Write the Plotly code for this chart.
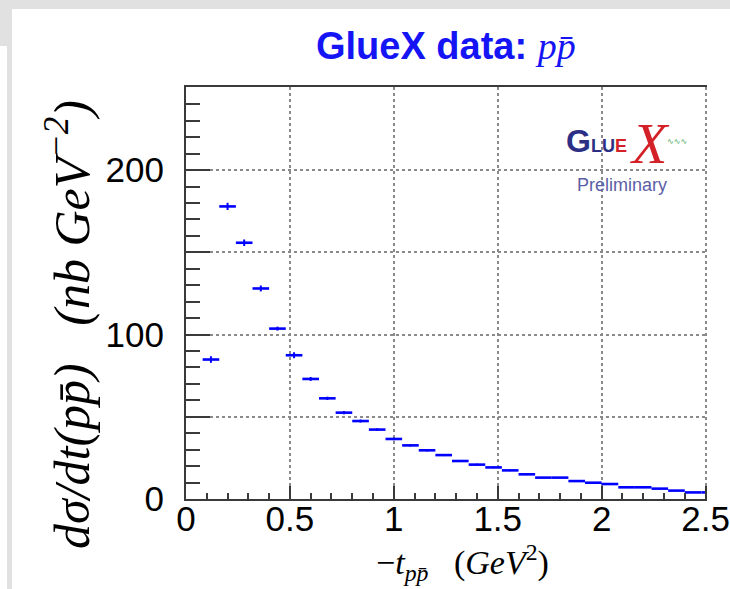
import plotly.graph_objects as go

# Differential cross section dsigma/dt for p pbar, in bins of -t (GeV^2)
bin_low = [0.08, 0.16, 0.24, 0.32, 0.40, 0.48, 0.56, 0.64, 0.72, 0.80,
           0.88, 0.96, 1.04, 1.12, 1.20, 1.28, 1.36, 1.44, 1.52, 1.60,
           1.68, 1.76, 1.84, 1.92, 2.00, 2.08, 2.16, 2.24, 2.32, 2.40, 2.48]
bin_width = 0.08
dsigma_dt = [84.8, 177.9, 155.8, 128.0, 103.6, 87.4, 73.0, 61.2, 52.5, 47.4,
             42.2, 36.5, 32.6, 29.6, 26.7, 23.1, 20.9, 19.2, 17.4, 15.0,
             13.0, 13.0, 10.9, 9.9, 9.1, 7.1, 7.1, 6.3, 5.1, 4.0, 4.0]
stat_err = [2.0, 2.2, 2.0, 1.8, 1.2, 1.8, 1.2, 1.0, 1.0, 0.9,
            0.8, 0.8, 0.7, 0.7, 0.6, 0.6, 0.6, 0.5, 0.5, 0.5,
            0.4, 0.4, 0.4, 0.4, 0.3, 0.3, 0.3, 0.3, 0.3, 0.3, 0.3]

x_major = [0, 0.5, 1, 1.5, 2, 2.5]
x_labels = ["0", "0.5", "1", "1.5", "2", "2.5"]
y_labelled = [0, 100, 200]
y_unlabelled = [50, 150]

x_range = [0, 2.507]
y_range = [0, 250.5]

bin_center = [lo + bin_width / 2 for lo in bin_low]

W, H = 730, 589
L, R, T, B = 186, 707, 87, 499


def px(x):
    return (x - L) / (R - L)


def py(y):
    return (B - y) / (B - T)


fig = go.Figure()
fig.add_trace(go.Scatter(
    x=bin_center, y=dsigma_dt, mode="markers",
    marker=dict(size=0.1, color="#0000ff"),
    error_x=dict(type="constant", value=bin_width / 2, width=0,
                 thickness=2.6, color="#0000ff"),
    error_y=dict(type="data", array=stat_err, width=0,
                 thickness=2, color="#0000ff"),
    showlegend=False, hoverinfo="x+y",
))
# empty trace carrying the secondary y axis (unlabelled major ticks + grid)
fig.add_trace(go.Scatter(x=[None], y=[None], yaxis="y2", showlegend=False,
                         hoverinfo="skip"))

tick_font = dict(family="Liberation Sans, Arial", size=35, color="#000")
line_col = "#3a3a3a"
grid = dict(showgrid=True, gridcolor="#8a8a8a", gridwidth=1.5, griddash="dot")

fig.update_layout(
    xaxis=dict(
        range=x_range, tickmode="array", tickvals=x_major, ticktext=x_labels,
        showline=True, linecolor=line_col, linewidth=2, mirror=True,
        ticks="inside", ticklen=13, tickcolor=line_col, tickwidth=2,
        minor=dict(dtick=0.1, tick0=0, ticklen=6, ticks="inside",
                   tickcolor=line_col, tickwidth=2, showgrid=False),
        zeroline=False, tickfont=tick_font, ticklabelstandoff=-12, **grid,
    ),
    yaxis=dict(
        range=y_range, tickmode="array", tickvals=y_labelled,
        showline=True, linecolor=line_col, linewidth=2, mirror=False,
        ticks="inside", ticklen=24, tickcolor=line_col, tickwidth=2,
        minor=dict(dtick=10, tick0=0, ticklen=14, ticks="inside",
                   tickcolor=line_col, tickwidth=2, showgrid=False),
        zeroline=False, tickfont=tick_font, ticklabelstandoff=13, **grid,
    ),
    yaxis2=dict(
        range=y_range, overlaying="y", side="left", tickmode="array",
        tickvals=y_unlabelled, showticklabels=False,
        ticks="inside", ticklen=24, tickcolor=line_col, tickwidth=2,
        showline=False, zeroline=False, **grid,
    ),
)

gray = "#e1e1e1"
shapes = [
    dict(type="rect", xref="paper", yref="paper", x0=px(0), x1=px(W), y0=py(0), y1=py(9),
         fillcolor=gray, line_width=0, layer="below"),
    dict(type="rect", xref="paper", yref="paper", x0=px(0), x1=px(12), y0=py(9), y1=py(46),
         fillcolor=gray, line_width=0, layer="below"),
    dict(type="rect", xref="paper", yref="paper", x0=px(7), x1=px(12), y0=py(46), y1=py(H),
         fillcolor=gray, line_width=0, layer="below"),
]

serif = "Liberation Serif, Times New Roman, serif"
nb = "\u00a0"
annotations = [
    # title
    dict(x=px(446), y=py(46), xref="paper", yref="paper", showarrow=False,
         xanchor="center", yanchor="middle",
         text=("<b>GlueX data: </b><span style='font-family:" + serif + "'><i>pp\u0304</i></span>"),
         font=dict(family="Liberation Sans, Arial", size=38, color="#1414f5")),
    # y-axis title
    dict(x=px(68), y=py(325), xref="paper", yref="paper", showarrow=False,
         xanchor="center", yanchor="middle", textangle=-90,
         text="<i>d\u03c3/dt(pp\u0304)" + nb * 3 + "(nb" + nb + "GeV<sup>\u22122</sup>)</i>",
         font=dict(family=serif, size=50, color="#000")),
    # x-axis title
    dict(x=px(462), y=py(562), xref="paper", yref="paper", showarrow=False,
         xanchor="center", yanchor="middle",
         text="\u2212<i>t</i><sub><i>pp\u0304</i></sub>" + nb * 3 + "(<i>GeV</i><sup>2</sup>)",
         font=dict(family=serif, size=34, color="#000")),
    # GlueX logo
    dict(x=px(564), y=py(141), xref="paper", yref="paper", showarrow=False,
         xanchor="left", yanchor="middle",
         text="<b><span style='font-size:32px'>G</span>LU<span style='color:#d42027'>E</span></b>",
         font=dict(family="Liberation Sans, Arial", size=18, color="#2b2f86")),
    dict(x=px(650), y=py(143), xref="paper", yref="paper", showarrow=False,
         xanchor="center", yanchor="middle", text="<i>X</i>",
         font=dict(family=serif, size=58, color="#d42027")),
    dict(x=px(677), y=py(141), xref="paper", yref="paper", showarrow=False,
         xanchor="center", yanchor="middle", text="\u223f\u223f\u223f",
         font=dict(family="DejaVu Sans", size=8, color="#3aa34a")),
    dict(x=px(622), y=py(185), xref="paper", yref="paper", showarrow=False,
         xanchor="center", yanchor="middle", text="Preliminary",
         font=dict(family="Liberation Sans, Arial", size=18, color="#5b5ea6")),
]

fig.update_layout(
    width=W, height=H,
    margin=dict(l=L, r=W - R, t=T, b=H - B, autoexpand=False),
    paper_bgcolor="white", plot_bgcolor="white",
    shapes=shapes, annotations=annotations,
    showlegend=False,
)

fig.write_html("out.html")
